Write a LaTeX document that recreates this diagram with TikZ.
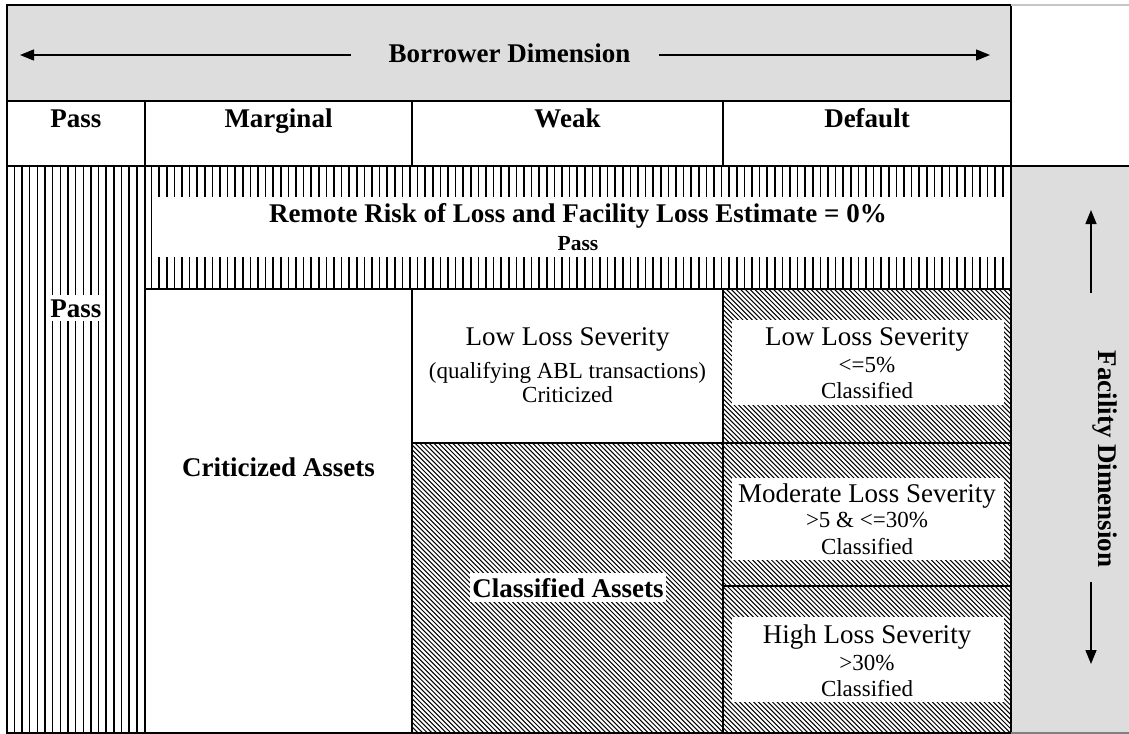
\documentclass[tikz,border=0pt]{standalone}
\usepackage{fontspec}
\setmainfont{Liberation Serif}
\usetikzlibrary{arrows.meta}
\definecolor{hdrgray}{RGB}{221,221,221}
\tikzset{
 grid/.style={line width=1.4bp, draw=black},
 vh/.style={line width=1.5bp},
 dh/.style={line width=1.0bp},
 arr/.style={line width=1.4bp, -{Triangle[length=14bp,width=11bp]}},
 bigb/.style={font=\bfseries\fontsize{27bp}{30bp}\selectfont, inner sep=0pt, anchor=base},
 smallb/.style={font=\bfseries\fontsize{21.5bp}{24bp}\selectfont, inner sep=0pt, anchor=base},
 lineA/.style={font=\fontsize{27bp}{30bp}\selectfont, inner sep=0pt, anchor=base},
 lineB/.style={font=\fontsize{23bp}{26bp}\selectfont, inner sep=0pt, anchor=base},
 wlabel/.style={bigb, fill=white, inner xsep=2bp, inner ysep=4bp},
}
\begin{document}
\begin{tikzpicture}[x=1bp,y=-1bp]
\useasboundingbox (0,0) rectangle (1129,734);
\fill[white] (0,0) rectangle (1129,734);
\fill[hdrgray] (7,5) rectangle (1011,101);
\fill[hdrgray] (1011,166) rectangle (1129,734);
% vertical hatch: Pass column
\foreach \x in {14.4,22.05,...,141} \draw[vh] (\x,166) -- (\x,734);
% vertical hatch: remote risk band
\foreach \x in {151.6,159.2,...,1006} \draw[vh] (\x,166) -- (\x,289);
\fill[white] (158,197) rectangle (1004,257);
% diagonal hatch
\begin{scope}
\clip (412,443) rectangle (723,734) (723,289) rectangle (1011,734);
\foreach \x in {-40,-35.3,...,1011} \draw[dh] (\x,289) -- ++(445,445);
\end{scope}
% white boxes in Default cells
\fill[white] (732,320) rectangle (1004,405);
\fill[white] (732,478) rectangle (1004,560);
\fill[white] (732,617) rectangle (1004,702);
% grid
\draw[grid] (7,5) rectangle (1011,733);
\draw[grid] (7,101) -- (1011,101);
\draw[grid] (7,166) -- (1129,166);
\draw[grid] (145,101) -- (145,733);
\draw[grid] (412,101) -- (412,166) (412,289) -- (412,733);
\draw[grid] (723,101) -- (723,166) (723,289) -- (723,733);
\draw[grid] (145,289) -- (1011,289);
\draw[grid] (412,443) -- (1011,443);
\draw[grid] (723,586) -- (1011,586);
\draw[gray!45, line width=1.4bp] (1011,5) -- (1129,5);
\draw[gray, line width=1.2bp] (1011,733) -- (1129,733);
% borrower dimension
\node[bigb] (bdim) at (509.5,63) {Borrower Dimension};
\coordinate (blS) at (351,55); \coordinate (blE) at (20,55);
\coordinate (brS) at (659,55); \coordinate (brE) at (990,55);
\draw[arr] (blS) -- (blE);
\draw[arr] (brS) -- (brE);
% header row
\node[bigb] (hpass) at (76,128) {Pass};
\node[bigb] (hmarg) at (278.5,128) {Marginal};
\node[bigb] (hweak) at (567.5,128) {Weak};
\node[bigb] (hdef) at (867,128) {Default};
% remote risk
\node[bigb] (remote) at (578,223) {Remote Risk of Loss and Facility Loss Estimate = 0\%};
\node[smallb] (rpass) at (578,250) {Pass};
% left pass
\node[wlabel] (lpass) at (76,317) {Pass};
% criticized / classified
\node[bigb] (crit) at (278.5,476) {Criticized Assets};
\node[wlabel, inner ysep=5bp] (class) at (568,597) {Classified Assets};
% weak low loss
\node[lineA] (wl1) at (567.5,345) {Low Loss Severity};
\node[lineB] (wl2) at (567.5,378) {(qualifying ABL transactions)};
\node[lineB] (wl3) at (567.5,402) {Criticized};
% default cells
\node[lineA] (da1) at (867,345) {Low Loss Severity};
\node[lineB] (da2) at (867,372) {<=5\%};
\node[lineB] (da3) at (867,398) {Classified};
\node[lineA] (db1) at (867,502) {Moderate Loss Severity};
\node[lineB] (db2) at (867,527) {>5 \& <=30\%};
\node[lineB] (db3) at (867,554) {Classified};
\node[lineA] (dc1) at (867,643) {High Loss Severity};
\node[lineB] (dc2) at (867,670) {>30\%};
\node[lineB] (dc3) at (867,696) {Classified};
% facility dimension
\node[bigb, rotate=-90] (fdim) at (1098,459) {Facility Dimension};
\coordinate (fuS) at (1091,293); \coordinate (fuE) at (1091,210);
\coordinate (fdS) at (1091,582); \coordinate (fdE) at (1091,664);
\draw[arr] (fuS) -- (fuE);
\draw[arr] (fdS) -- (fdE);
\end{tikzpicture}
\end{document}
